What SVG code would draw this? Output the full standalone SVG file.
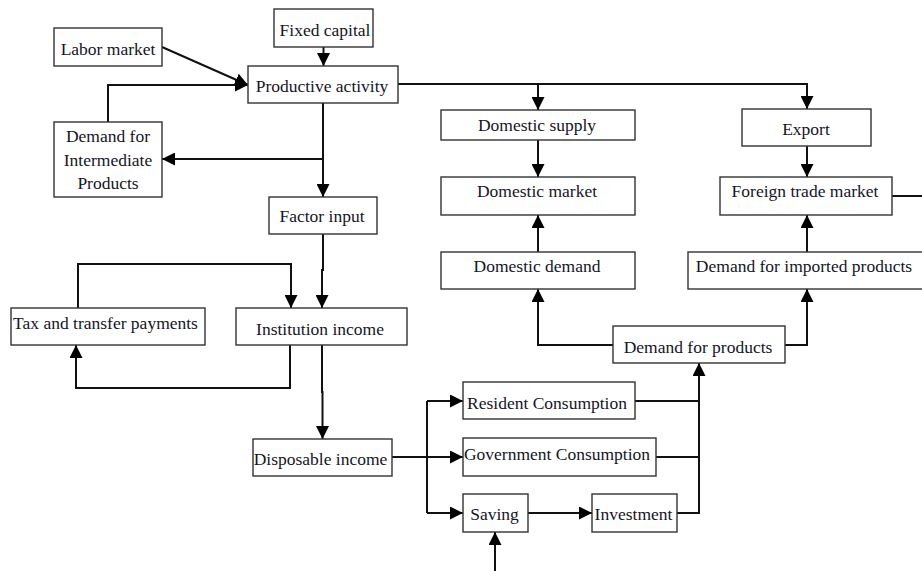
<svg xmlns="http://www.w3.org/2000/svg" width="922" height="571" viewBox="0 0 922 571">
<style>
.box{fill:#fff;stroke:#333;stroke-width:1.4}
.t{font-family:"Liberation Serif","Times New Roman",serif;font-size:17.5px;fill:#151525;text-anchor:middle}
.c{fill:none;stroke:#111;stroke-width:2}
</style>
<defs>
<marker id="ah" markerUnits="userSpaceOnUse" markerWidth="14" markerHeight="13" refX="13" refY="6.5" orient="auto">
<path d="M0,0 L13,6.5 L0,13 z" fill="#000"/>
</marker>
</defs>
<rect width="922" height="571" fill="#fff"/>
<g id="connectors">
<path class="c" d="M162 47 L248 85" marker-end="url(#ah)"/>
<path class="c" d="M323.5 47 V66" marker-end="url(#ah)"/>
<path class="c" d="M108 122 V85 H248" marker-end="url(#ah)"/>
<path class="c" d="M323 103 V197" marker-end="url(#ah)"/>
<path class="c" d="M323 159 H162" marker-end="url(#ah)"/>
<path class="c" d="M398 84 H807 V109" marker-end="url(#ah)"/>
<path class="c" d="M538 84 V110" marker-end="url(#ah)"/>
<path class="c" d="M538 140 V177" marker-end="url(#ah)"/>
<path class="c" d="M538 252 V215" marker-end="url(#ah)"/>
<path class="c" d="M807 146 V177" marker-end="url(#ah)"/>
<path class="c" d="M807 252 V215" marker-end="url(#ah)"/>
<path class="c" d="M892 196 H922"/>
<path class="c" d="M613 345 H538 V289" marker-end="url(#ah)"/>
<path class="c" d="M785 345 H807 V289" marker-end="url(#ah)"/>
<path class="c" d="M323 234 V270 H322 V308" marker-end="url(#ah)"/>
<path class="c" d="M78 308 V264 H291 V308" marker-end="url(#ah)"/>
<path class="c" d="M290 345 V388 H76 V345" marker-end="url(#ah)"/>
<path class="c" d="M322 345 V392 H322.5 V439" marker-end="url(#ah)"/>
<path class="c" d="M392 457 H463" marker-end="url(#ah)"/>
<path class="c" d="M427 401 V513"/>
<path class="c" d="M427 401 H463" marker-end="url(#ah)"/>
<path class="c" d="M427 513 H463" marker-end="url(#ah)"/>
<path class="c" d="M528 513 H592" marker-end="url(#ah)"/>
<path class="c" d="M495 571 V532" marker-end="url(#ah)"/>
<path class="c" d="M635 401 H699"/>
<path class="c" d="M656 457 H699"/>
<path class="c" d="M677 513 H699 V363" marker-end="url(#ah)"/>
</g>
<g id="labor-market"><rect class="box" x="54" y="28" width="108" height="38"/><text class="t" x="108" y="55">Labor market</text></g>
<g id="fixed-capital"><rect class="box" x="274" y="9" width="99" height="38"/><text class="t" x="325" y="36">Fixed capital</text></g>
<g id="productive-activity"><rect class="box" x="248" y="66" width="150" height="37"/><text class="t" x="322" y="91.5">Productive activity</text></g>
<g id="demand-intermediate"><rect class="box" x="54" y="122" width="108" height="75"/><text class="t" x="108" y="141.5">Demand for</text><text class="t" x="108" y="165.5">Intermediate</text><text class="t" x="108" y="188.5">Products</text></g>
<g id="factor-input"><rect class="box" x="269" y="197" width="108" height="37"/><text class="t" x="322" y="221.5">Factor input</text></g>
<g id="domestic-supply"><rect class="box" x="441" y="110" width="194" height="30"/><text class="t" x="537" y="130.5">Domestic supply</text></g>
<g id="domestic-market"><rect class="box" x="441" y="177" width="194" height="38"/><text class="t" x="537" y="196.5">Domestic market</text></g>
<g id="domestic-demand"><rect class="box" x="441" y="252" width="194" height="37"/><text class="t" x="537" y="271.5">Domestic demand</text></g>
<g id="export"><rect class="box" x="742" y="109" width="129" height="37"/><text class="t" x="806" y="135">Export</text></g>
<g id="foreign-trade-market"><rect class="box" x="720" y="177" width="172" height="38"/><text class="t" x="805" y="196.5">Foreign trade market</text></g>
<g id="demand-imported"><rect class="box" x="688" y="252" width="240" height="37"/><text class="t" x="804" y="271.5">Demand for imported products</text></g>
<g id="demand-products"><rect class="box" x="613" y="326" width="172" height="37"/><text class="t" x="698" y="352.5">Demand for products</text></g>
<g id="tax-transfer"><rect class="box" x="11" y="308" width="194" height="37"/><text class="t" x="105.5" y="328.5">Tax and transfer payments</text></g>
<g id="institution-income"><rect class="box" x="236" y="308" width="171" height="37"/><text class="t" x="320" y="334.5">Institution income</text></g>
<g id="disposable-income"><rect class="box" x="253" y="439" width="139" height="37"/><text class="t" x="320.5" y="465">Disposable income</text></g>
<g id="resident-consumption"><rect class="box" x="463" y="382" width="172" height="37"/><text class="t" x="547" y="408.5">Resident Consumption</text></g>
<g id="government-consumption"><rect class="box" x="463" y="438" width="193" height="38"/><text class="t" x="557" y="459.5">Government Consumption</text></g>
<g id="saving"><rect class="box" x="463" y="494" width="65" height="38"/><text class="t" x="494.5" y="520">Saving</text></g>
<g id="investment"><rect class="box" x="592" y="494" width="85" height="38"/><text class="t" x="633.5" y="520">Investment</text></g>
</svg>
